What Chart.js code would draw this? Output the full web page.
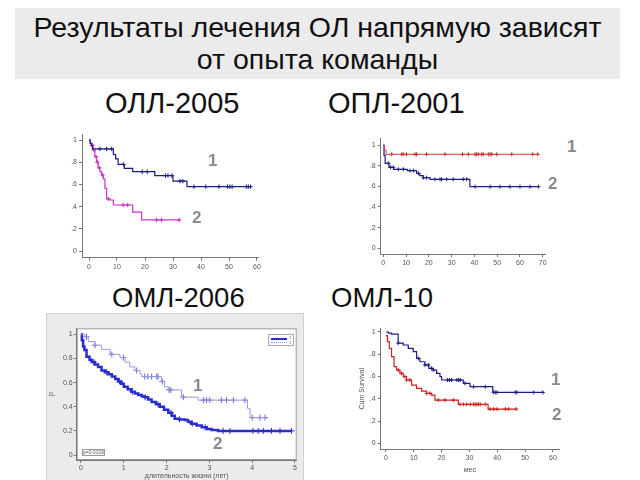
<!DOCTYPE html>
<html>
<head>
<meta charset="utf-8">
<script src="https://cdn.jsdelivr.net/npm/chart.js@4/dist/chart.umd.min.js"></script>
<style>
    body { margin: 0; background: #fff; font-family: "Liberation Sans", Arial, sans-serif; }
    #slide { position: relative; width: 640px; height: 480px; overflow: hidden; background: #fff; }
    #titleBox {
        position: absolute; left: 15px; top: 8px; width: 605px; height: 71px;
        background: #ebebeb; text-align: center; font-size: 28.5px; line-height: 32px;
        padding-top: 3px; box-sizing: border-box; color: #111;
    }
    .sub { position: absolute; font-size: 29px; line-height: 30px; color: #111; white-space: nowrap; }
    .sub.low { font-size: 27.5px; }
    .num { position: absolute; font-size: 17px; font-weight: bold; color: #8a8a8a; }
    canvas { position: absolute; }
    #amlFrame { position: absolute; left: 47px; top: 314px; width: 256px; height: 166px; background: #ebebeb; outline: 1px solid #d0d0d0; }
    #amlLegend { position: absolute; left: 268px; top: 334px; width: 26px; height: 12px; background: #fff; border: 1px solid #aaa; box-sizing: border-box; }
    #pBox { position: absolute; left: 82px; top: 449px; width: 23px; height: 7px; border: 1px solid #999; box-sizing: border-box; font-size: 5px; line-height: 5px; color: #555; text-align: center; background: #fff; }
</style>
</head>
<body>
<div id="slide">
    <div id="titleBox">Результаты лечения ОЛ напрямую зависят<br>от опыта команды</div>
    <div class="sub" style="left:105px; top:88px;">ОЛЛ-2005</div>
    <div class="sub" style="left:328px; top:88px;">ОПЛ-2001</div>
    <div class="sub low" style="left:112px; top:283px;">ОМЛ-2006</div>
    <div class="sub low" style="left:331px; top:283px;">ОМЛ-10</div>

    <canvas id="ollChart"></canvas>
    <canvas id="oplChart"></canvas>
    <div id="amlFrame"></div>
    <canvas id="aml06Chart"></canvas>
    <canvas id="aml10Chart"></canvas>

    <div id="amlLegend">
        <div style="position:absolute;left:2px;top:3px;width:16px;height:0;border-top:2px solid #2b2bd0;"></div>
        <div style="position:absolute;left:20px;top:0px;font-size:4px;color:#555;">2</div>
        <div style="position:absolute;left:2px;top:7px;width:16px;height:0;border-top:1px dotted #9090dd;"></div>
        <div style="position:absolute;left:20px;top:5px;font-size:4px;color:#555;">1</div>
    </div>
    <div id="pBox">p=0.0016</div>

    <div class="num" style="left:208px; top:151px;">1</div>
    <div class="num" style="left:192px; top:208px;">2</div>
    <div class="num" style="left:567px; top:137px;">1</div>
    <div class="num" style="left:548px; top:174px;">2</div>
    <div class="num" style="left:193px; top:376px;">1</div>
    <div class="num" style="left:213px; top:434px;">2</div>
    <div class="num" style="left:551px; top:370px;">1</div>
    <div class="num" style="left:552px; top:405px;">2</div>
</div>

<script>
// ОЛЛ-2005 (months)
const ollTime1 = [0, 0.4, 0.8, 1.2, 8.7, 9.5, 10.4, 12.6, 15.6, 23.5, 30.0, 35.0, 58];
const ollSurv1 = [1, 0.97, 0.95, 0.92, 0.87, 0.83, 0.78, 0.745, 0.715, 0.68, 0.63, 0.58, 0.58];
const ollCens1 = [3.9, 6.3, 8.1, 12.3, 19.0, 20.8, 27.3, 28.2, 29.6, 32.5, 33.5, 37.5, 41.7, 46.4, 49.5, 50.3, 51.1, 56.2, 56.9, 57.7];
const ollTime2 = [0, 0.5, 1.0, 1.5, 2.1, 2.7, 3.3, 3.9, 4.5, 5.1, 5.7, 6.3, 7.5, 8.7, 15.6, 18.8, 32.4];
const ollSurv2 = [1, 0.97, 0.955, 0.91, 0.85, 0.80, 0.75, 0.715, 0.685, 0.65, 0.565, 0.47, 0.46, 0.415, 0.35, 0.28, 0.28];
const ollCens2 = [1.2, 1.8, 2.5, 3.0, 3.7, 4.8, 6.9, 12.2, 13.8, 24.1, 25.9, 32.2];
const ollXTicks = [0, 10, 20, 30, 40, 50, 60];
const ollXLabels = ['0', '10', '20', '30', '40', '50', '60'];
const ollYTicks = [0, 0.2, 0.4, 0.6, 0.8, 1];
const ollYLabels = ['0', '.2', '.4', '.6', '.8', '1'];

// ОПЛ-2001
const oplTime1 = [0, 0.5, 1.2, 68];
const oplSurv1 = [1, 0.95, 0.91, 0.91];
const oplCens1 = [3.7, 8.1, 8.8, 10.2, 13.9, 14.6, 19.0, 27.1, 34.8, 37.3, 40.3, 41.0, 41.7, 43.2, 43.9, 46.1, 46.9, 47.6, 49.8, 56.4, 65.6, 67.8];
const oplTime2 = [0, 0.3, 0.8, 2.5, 4.5, 10.5, 14.6, 16.0, 17.5, 20.5, 38.0, 68.5];
const oplSurv2 = [1, 0.9, 0.823, 0.784, 0.765, 0.752, 0.726, 0.703, 0.684, 0.668, 0.597, 0.597];
const oplCens2 = [2.2, 3.2, 4.4, 6.6, 8.8, 11.7, 13.2, 15.4, 17.6, 19.0, 22.7, 24.9, 25.6, 27.8, 30.7, 35.1, 36.6, 40.3, 46.9, 51.2, 55.6, 60.0, 64.4, 68.1];
const oplXTicks = [0, 10, 20, 30, 40, 50, 60, 70];
const oplXLabels = ['0', '10', '20', '30', '40', '50', '60', '70'];
const oplYTicks = [0, 0.2, 0.4, 0.6, 0.8, 1];
const oplYLabels = ['0', '.2', '.4', '.6', '.8', '1'];

// ОМЛ-2006 (years)
const aml06Time1 = [0, 0.09, 0.17, 0.33, 0.48, 0.68, 0.91, 1.03, 1.14, 1.26, 1.38, 1.42, 1.88, 1.95, 2.04, 2.35, 2.74, 3.89, 3.95, 4.3];
const aml06Surv1 = [1, 0.98, 0.94, 0.91, 0.876, 0.834, 0.807, 0.77, 0.73, 0.70, 0.67, 0.65, 0.61, 0.566, 0.54, 0.48, 0.455, 0.387, 0.31, 0.31];
const aml06Cens1 = [0.13, 0.33, 0.72, 0.99, 1.3, 1.49, 1.56, 1.65, 1.77, 1.8, 1.9, 2.06, 2.1, 2.39, 2.86, 2.93, 3.01, 3.28, 3.4, 3.56, 3.83, 4.0, 4.18, 4.3];
const aml06Time2 = [0, 0.02, 0.05, 0.08, 0.13, 0.2, 0.25, 0.32, 0.4, 0.48, 0.56, 0.64, 0.72, 0.8, 0.87, 0.94, 1.0, 1.09, 1.18, 1.26, 1.34, 1.42, 1.49, 1.57, 1.65, 1.75, 1.84, 1.94, 2.04, 2.12, 2.19, 2.3, 2.43, 2.5, 2.58, 2.7, 2.82, 2.94, 3.05, 3.2, 4.92];
const aml06Surv2 = [1, 0.95, 0.9, 0.87, 0.815, 0.79, 0.77, 0.75, 0.73, 0.70, 0.685, 0.67, 0.65, 0.63, 0.61, 0.59, 0.566, 0.545, 0.525, 0.51, 0.497, 0.488, 0.478, 0.46, 0.44, 0.42, 0.40, 0.375, 0.35, 0.325, 0.30, 0.295, 0.29, 0.275, 0.26, 0.245, 0.23, 0.215, 0.207, 0.2, 0.2];
const aml06Cens2 = [0.3, 0.6, 0.9, 1.2, 1.5, 1.8, 2.1, 2.3, 2.6, 2.9, 3.32, 3.48, 4.02, 4.14, 4.26, 4.45, 4.65, 4.92];
const aml06XTicks = [0, 1, 2, 3, 4, 5];
const aml06XLabels = ['0', '1', '2', '3', '4', '5'];
const aml06YTicks = [0, 0.2, 0.4, 0.6, 0.8, 1];
const aml06YLabels = ['0', '0.2', '0.4', '0.6', '0.8', '1'];

// ОМЛ-10 (мес)
const aml10Time1 = [0, 0.8, 2.0, 4.4, 6.2, 8.0, 9.8, 11.0, 12.2, 14.0, 15.4, 17.0, 18.2, 19.4, 20.0, 27.8, 30.2, 38.4, 56.7];
const aml10Surv1 = [1, 0.99, 0.98, 0.9, 0.883, 0.853, 0.823, 0.763, 0.733, 0.704, 0.674, 0.659, 0.629, 0.599, 0.569, 0.539, 0.509, 0.458, 0.458];
const aml10Cens1 = [4.4, 11.6, 14.0, 15.2, 16.4, 17.0, 22.1, 22.8, 23.6, 25.5, 26.1, 26.7, 28.4, 31.5, 35.7, 38.7, 39.3, 39.9, 46.5, 47.1, 53.1, 56.4];
const aml10Time2 = [0, 0.5, 1.2, 2.0, 2.9, 3.8, 5.0, 6.2, 7.4, 9.2, 11.0, 12.8, 14.6, 16.4, 17.6, 26.0, 36.7, 47.0];
const aml10Surv2 = [0.967, 0.913, 0.853, 0.778, 0.689, 0.659, 0.629, 0.599, 0.569, 0.524, 0.494, 0.47, 0.449, 0.434, 0.389, 0.35, 0.308, 0.308];
const aml10Cens2 = [4.4, 5.6, 6.8, 7.4, 8.6, 14.6, 15.8, 18.8, 21.2, 24.2, 26.6, 27.8, 29.0, 30.3, 31.5, 32.1, 32.7, 33.3, 33.9, 35.7, 37.4, 38.7, 39.9, 42.9, 44.1, 46.8];
const aml10XTicks = [0, 10, 20, 30, 40, 50, 60];
const aml10XLabels = ['0', '10', '20', '30', '40', '50', '60'];
const aml10YTicks = [0, 0.2, 0.4, 0.6, 0.8, 1];
const aml10YLabels = ['0', '.2', '.4', '.6', '.8', '1'];


// survival value of a step curve at time t (used to put the censor marks on the curve)
function survAt(times, surv, t) {
    let s = surv[0];
    for (let i = 0; i < times.length; i++) {
        if (times[i] <= t) s = surv[i];
    }
    return s;
}

function stepLine(times, surv, color, width) {
    return {
        data: times.map((t, i) => ({x: t, y: surv[i]})),
        borderColor: color,
        borderWidth: width,
        stepped: true,
        pointRadius: 0,
        fill: false
    };
}

function censorMarks(times, surv, cens, color, size) {
    return {
        data: cens.map(t => ({x: t, y: survAt(times, surv, t)})),
        showLine: false,
        pointStyle: 'cross',
        pointRadius: size,
        borderColor: color,
        borderWidth: 1
    };
}

function axis(s, size, fontSize) {
    return {
        type: 'linear',
        min: s.min,
        max: s.max,
        afterBuildTicks: sc => { sc.ticks = s.ticks.map(v => ({value: v})); },
        afterFit: sc => {
            if (sc.isHorizontal()) sc.height = size;
            else sc.width = size;
        },
        ticks: {
            autoSkip: false,
            maxRotation: 0,
            padding: s.pad || 2,
            color: '#555',
            font: {size: fontSize || 7, family: 'Liberation Sans'},
            callback: (v, i) => s.labels[i]
        },
        grid: {drawOnChartArea: false, tickLength: 3, color: '#777'},
        border: {color: '#777'},
        title: s.title ? {display: true, text: s.title, color: '#555', padding: 0, font: {size: 7, family: 'Liberation Sans'}} : {display: false}
    };
}

// box = canvas [left, top, w, h], area = plot area [left, top, right, bottom], all in page pixels
function makeKM(id, box, area, xs, ys, datasets, extraPlugins) {
    const cv = document.getElementById(id);
    cv.style.left = box[0] + 'px';
    cv.style.top = box[1] + 'px';
    cv.width = box[2];
    cv.height = box[3];
    return new Chart(cv, {
        type: 'line',
        data: {datasets: datasets},
        options: {
            responsive: false,
            animation: false,
            layout: {padding: {left: 0, top: area[1] - box[1], right: box[0] + box[2] - area[2], bottom: 0}},
            plugins: {legend: {display: false}, tooltip: {enabled: false}},
            scales: {
                x: axis(xs, box[1] + box[3] - area[3]),
                y: axis(ys, area[0] - box[0])
            }
        },
        plugins: extraPlugins || []
    });
}

// white plot area with a frame round it (ОМЛ-2006 panel)
const framePlugin = {
    id: 'frame',
    beforeDraw(chart) {
        const a = chart.chartArea, ctx = chart.ctx;
        ctx.save();
        ctx.fillStyle = '#ffffff';
        ctx.fillRect(a.left, a.top, a.right - a.left, a.bottom - a.top);
        ctx.strokeStyle = '#999';
        ctx.lineWidth = 1;
        ctx.strokeRect(a.left + 0.5, a.top + 0.5, a.right - a.left - 1, a.bottom - a.top - 1);
        ctx.restore();
    }
};

const navy = '#1c1c84';

makeKM('ollChart', [60, 125, 210, 150], [82, 134.5, 258.4, 257.7],
    {min: -2.5, max: 60.5, ticks: ollXTicks, labels: ollXLabels},
    {min: -0.06, max: 1.05, ticks: ollYTicks, labels: ollYLabels},
    [
        stepLine(ollTime1, ollSurv1, navy, 1.2),
        censorMarks(ollTime1, ollSurv1, ollCens1, navy, 2.2),
        stepLine(ollTime2, ollSurv2, '#cc33cc', 1.2),
        censorMarks(ollTime2, ollSurv2, ollCens2, '#cc33cc', 2.2)
    ]);

makeKM('oplChart', [355, 130, 200, 135], [380.7, 138.3, 545, 254],
    {min: -1.15, max: 71, ticks: oplXTicks, labels: oplXLabels},
    {min: -0.055, max: 1.065, ticks: oplYTicks, labels: oplYLabels},
    [
        stepLine(oplTime1, oplSurv1, '#d04040', 1),
        censorMarks(oplTime1, oplSurv1, oplCens1, '#cc2020', 2),
        stepLine(oplTime2, oplSurv2, navy, 1.2),
        censorMarks(oplTime2, oplSurv2, oplCens2, navy, 2)
    ]);

makeKM('aml06Chart', [47, 314, 256, 166], [76.7, 328.3, 296.7, 460],
    {min: -0.1, max: 5.04, ticks: aml06XTicks, labels: aml06XLabels, pad: 1, title: 'длительность жизни (лет)'},
    {min: -0.041, max: 1.05, ticks: aml06YTicks, labels: aml06YLabels, pad: 1, title: 'p'},
    [
        stepLine(aml06Time1, aml06Surv1, '#9a9ae0', 1),
        censorMarks(aml06Time1, aml06Surv1, aml06Cens1, '#6a6ad0', 3),
        stepLine(aml06Time2, aml06Surv2, '#2b2bd0', 2.5),
        censorMarks(aml06Time2, aml06Surv2, aml06Cens2, '#2b2bd0', 3)
    ], [framePlugin]);

makeKM('aml10Chart', [358, 322, 210, 152], [380.7, 328.3, 559, 449],
    {min: -1.9, max: 62.2, ticks: aml10XTicks, labels: aml10XLabels, title: 'мес'},
    {min: -0.05, max: 1.033, ticks: aml10YTicks, labels: aml10YLabels, title: 'Cum Survival'},
    [
        stepLine(aml10Time1, aml10Surv1, navy, 1.2),
        censorMarks(aml10Time1, aml10Surv1, aml10Cens1, navy, 2),
        stepLine(aml10Time2, aml10Surv2, '#d02020', 1.2),
        censorMarks(aml10Time2, aml10Surv2, aml10Cens2, '#d02020', 2)
    ]);
</script>
</body>
</html>
